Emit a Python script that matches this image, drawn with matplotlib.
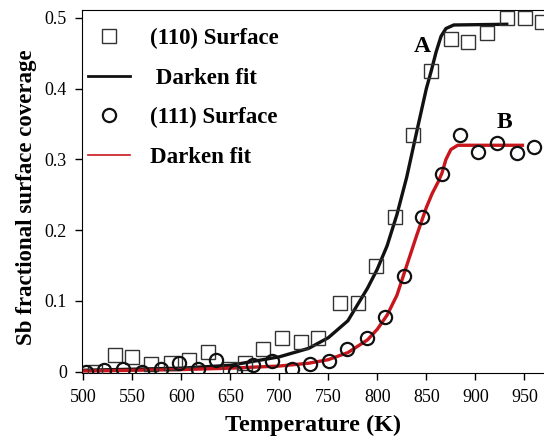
import numpy as np
import matplotlib
matplotlib.use("Agg")
import matplotlib.pyplot as plt
from matplotlib.lines import Line2D

plt.rcParams['font.family'] = ['Liberation Serif', 'DejaVu Serif']

# (110) surface data
t110 = [512, 532, 550, 569, 590, 608, 627, 650, 665, 683, 703, 722, 740, 762, 780,
        799, 818, 836, 855, 875, 893, 912, 932, 951, 968]
c110 = [0.000, 0.024, 0.021, 0.011, 0.013, 0.017, 0.028, 0.004, 0.012, 0.032, 0.048,
        0.042, 0.048, 0.097, 0.097, 0.149, 0.218, 0.334, 0.425, 0.470, 0.466, 0.479,
        0.500, 0.500, 0.494]

# (111) surface data
t111 = [503, 521, 541, 560, 579, 598, 617, 636, 655, 673, 693, 713, 731, 751, 769,
        789, 808, 827, 846, 866, 884, 903, 922, 942, 960]
c111 = [0.000, 0.002, 0.004, 0.000, 0.004, 0.012, 0.004, 0.016, 0.000, 0.010, 0.015,
        0.004, 0.011, 0.015, 0.032, 0.048, 0.077, 0.135, 0.218, 0.279, 0.334, 0.310,
        0.323, 0.309, 0.317]

# Darken fit curves (traced)
fit_a_t = [500, 600, 650, 700, 730, 750, 770, 780, 790, 800, 810, 820, 830, 840,
           850, 855, 860, 865, 870, 878, 932]
fit_a_c = [0.002, 0.005, 0.009, 0.021, 0.033, 0.048, 0.072, 0.095, 0.118, 0.145,
           0.178, 0.222, 0.275, 0.338, 0.400, 0.425, 0.452, 0.474, 0.485, 0.490, 0.491]

fit_b_t = [500, 600, 650, 700, 730, 750, 770, 790, 800, 810, 820, 830, 840, 850,
           856, 862, 866, 870, 875, 882, 948]
fit_b_c = [0.001, 0.003, 0.005, 0.008, 0.012, 0.017, 0.027, 0.045, 0.060, 0.080,
           0.108, 0.150, 0.192, 0.232, 0.252, 0.268, 0.281, 0.300, 0.314, 0.320, 0.320]

red = '#c8161d'

fig = plt.figure(figsize=(5.44, 4.40), dpi=100)
ax = fig.add_axes([0.151, 0.152, 0.849, 0.825])

ax.plot(fit_a_t, fit_a_c, color='#111111', lw=2.4, zorder=2)
ax.plot(fit_b_t, fit_b_c, color=red, lw=2.4, zorder=2)
ax.plot(t110, c110, ls='none', marker='s', ms=10, mfc='none', mec='#333333', mew=1.0, zorder=3)
ax.plot(t111, c111, ls='none', marker='o', ms=9.5, mfc='none', mec='#111111', mew=1.6, zorder=3)

ax.text(846, 0.46, 'A', fontsize=17, fontweight='bold', ha='center', va='center')
ax.text(930, 0.352, 'B', fontsize=17, fontweight='bold', ha='center', va='center')

handles = [
    Line2D([], [], ls='none', marker='s', ms=10, mfc='none', mec='#333333', mew=1.0),
    Line2D([], [], color='#111111', lw=2.0),
    Line2D([], [], ls='none', marker='o', ms=9.5, mfc='none', mec='#111111', mew=1.6),
    Line2D([], [], color=red, lw=1.2),
]
labels = ['(110) Surface', ' Darken fit', '(111) Surface', 'Darken fit']
leg = ax.legend(handles, labels, loc='upper left', bbox_to_anchor=(0.013, 0.950),
                frameon=False, prop={'weight': 'bold', 'size': 16.5},
                handlelength=1.83, handletextpad=0.87, labelspacing=0.8,
                borderaxespad=0.0, borderpad=0.0)

ax.set_xlim(499, 970)
ax.set_ylim(-0.002, 0.511)
ax.set_xticks(range(500, 951, 50))
ax.set_yticks([0, 0.1, 0.2, 0.3, 0.4, 0.5])
ax.set_yticklabels(['0', '0.1', '0.2', '0.3', '0.4', '0.5'])
ax.tick_params(direction='out', length=5, width=1, labelsize=13)
ax.tick_params(axis='x', pad=6.5)
ax.tick_params(axis='y', pad=6)
ax.spines['right'].set_visible(False)

ax.set_xlabel('Temperature (K)', fontsize=17.5, fontweight='bold', labelpad=6)
ax.set_ylabel('Sb fractional surface coverage', fontsize=16.5, fontweight='bold')
ax.yaxis.set_label_coords(-0.097, 0.485)

fig.savefig('out.png', dpi=100)
